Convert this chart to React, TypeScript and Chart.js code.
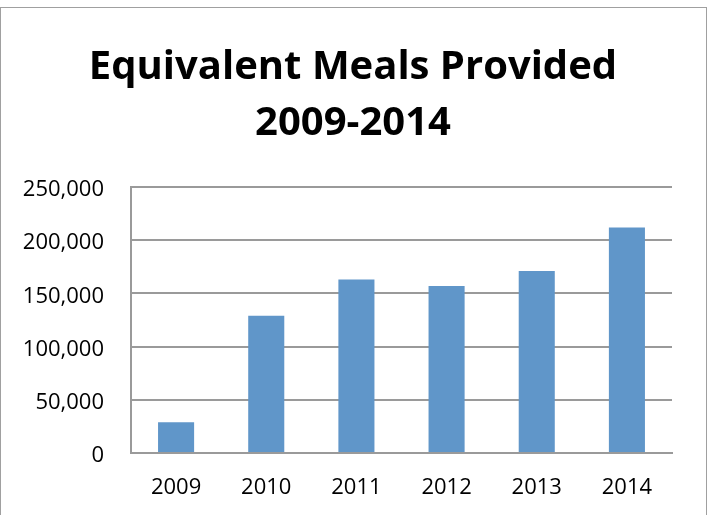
import React, { useEffect, useRef } from "react";
import { Chart, registerables } from "chart.js";

Chart.register(...registerables);

const years = ["2009", "2010", "2011", "2012", "2013", "2014"];
const meals = [29000, 129000, 163000, 157000, 171000, 212000];
const titleLines = ["Equivalent Meals Provided", "2009-2014"];

export default function App() {
  const ref = useRef<HTMLCanvasElement | null>(null);

  useEffect(() => {
    if (!ref.current) return;
    const chart = new Chart(ref.current, {
      type: "bar",
      data: {
        labels: years,
        datasets: [
          {
            data: meals,
            backgroundColor: "#6096C9",
            borderWidth: 0,
            barPercentage: 0.4,
            categoryPercentage: 1,
          },
        ],
      },
      options: {
        animation: false,
        responsive: false,
        layout: { padding: { left: 0, right: 7, top: 0, bottom: 0 } },
        plugins: {
          legend: { display: false },
          tooltip: { enabled: false },
          title: {
            display: true,
            text: titleLines,
            color: "#000",
            font: { family: "'Open Sans', sans-serif", size: 40, weight: "bold", lineHeight: 1.4 },
            padding: { top: 40, bottom: 35 },
          },
        },
        scales: {
          x: {
            grid: { display: false, drawTicks: false },
            border: { display: true, color: "#9A9A9A", width: 2 },
            ticks: {
              color: "#000",
              padding: 22,
              font: { family: "'Open Sans', sans-serif", size: 22 },
            },
            afterFit: (s: any) => {
              s.height = 62;
            },
          },
          y: {
            min: 0,
            max: 250000,
            grid: { color: "#9A9A9A", lineWidth: 2, drawTicks: false },
            border: { display: true, color: "#9A9A9A", width: 2 },
            ticks: {
              stepSize: 50000,
              color: "#000",
              padding: 27,
              labelOffset: 3,
              font: { family: "'Open Sans', sans-serif", size: 22 },
              callback: (v: any) => Number(v).toLocaleString("en-US"),
            },
            afterFit: (s: any) => {
              s.width = 131;
            },
          },
          yRight: {
            type: "linear",
            position: "right",
            display: true,
            grid: { display: false, drawTicks: false },
            border: { display: false },
            ticks: { display: false },
            afterFit: (s: any) => {
              s.width = 34;
            },
          },
        },
      },
    });
    return () => chart.destroy();
  }, []);

  return (
    <div
      style={{
        position: "absolute",
        left: 0,
        top: 0,
        width: 713,
        height: 515,
        overflow: "hidden",
        background: "#fff",
      }}
    >
      <div
        style={{
          position: "absolute",
          left: 0,
          top: 7,
          width: 707,
          height: 530,
          border: "1.5px solid #A0A0A0",
          boxSizing: "border-box",
        }}
      />
      <canvas
        ref={ref}
        width={713}
        height={515}
        style={{ position: "absolute", left: 0, top: 0, width: 713, height: 515 }}
      />
    </div>
  );
}
